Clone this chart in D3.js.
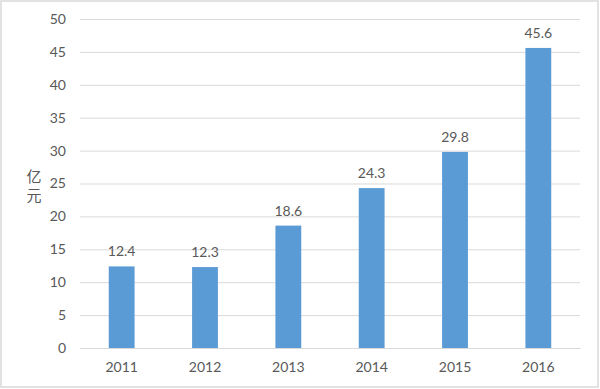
<!DOCTYPE html>
<html>
<head>
<meta charset="utf-8">
<script src="https://d3js.org/d3.v7.min.js"></script>
<style>
  body { margin: 0; background: #fff; }
  text { font-family: Lato, "Noto Sans CJK SC", sans-serif; fill: #595959; }
</style>
</head>
<body>
<div id="chart"></div>
<script>
// Chart data
const years = ["2011", "2012", "2013", "2014", "2015", "2016"];
const values = [12.4, 12.3, 18.6, 24.3, 29.8, 45.6];
const yTicks = [0, 5, 10, 15, 20, 25, 30, 35, 40, 45, 50];
const yLabel = ["亿", "元"];

const width = 600;
const height = 389;
const margin = { top: 19, right: 20, bottom: 41, left: 80 };

const svg = d3.select("#chart")
    .append("svg")
    .attr("width", width)
    .attr("height", height);

// outer border
svg.append("rect")
    .attr("x", 1).attr("y", 1)
    .attr("width", width - 3).attr("height", height - 3)
    .attr("fill", "#fff")
    .attr("stroke", "#d9d9d9")
    .attr("stroke-width", 1.5);

const x = d3.scaleBand()
    .domain(years)
    .range([margin.left, width - margin.right])
    .paddingInner(0.69)
    .paddingOuter(0.345);

const y = d3.scaleLinear()
    .domain([0, 50])
    .range([height - margin.bottom, margin.top]);

// gridlines + y labels
const yAxis = svg.append("g")
    .attr("transform", `translate(${margin.left},0)`)
    .call(d3.axisLeft(y)
        .tickValues(yTicks)
        .tickSize(-(width - margin.left - margin.right))
        .tickPadding(14));
yAxis.select(".domain").remove();
yAxis.selectAll(".tick line").attr("stroke", "#d9d9d9");
yAxis.selectAll(".tick text")
    .style("font-size", "14px")
    .attr("fill", "#595959");

// x axis
const xAxis = svg.append("g")
    .attr("transform", `translate(0,${height - margin.bottom})`)
    .call(d3.axisBottom(x).tickSize(0).tickPadding(14));
xAxis.select(".domain").attr("stroke", "#d9d9d9");
xAxis.selectAll(".tick text")
    .style("font-size", "14px")
    .attr("fill", "#595959");

// bars
svg.selectAll(".bar")
    .data(values)
    .enter()
    .append("rect")
    .attr("class", "bar")
    .attr("x", (d, i) => x(years[i]))
    .attr("y", d => y(d))
    .attr("width", x.bandwidth())
    .attr("height", d => y(0) - y(d))
    .attr("fill", "#5b9bd5");

// value labels
svg.selectAll(".val")
    .data(values)
    .enter()
    .append("text")
    .attr("class", "val")
    .attr("x", (d, i) => x(years[i]) + x.bandwidth() / 2)
    .attr("y", d => y(d) - 10)
    .attr("text-anchor", "middle")
    .style("font-size", "14px")
    .text(d => d.toFixed(1));

// y axis title, stacked vertically
svg.append("text")
    .attr("x", 34)
    .attr("text-anchor", "middle")
    .style("font-size", "15px")
    .selectAll("tspan")
    .data(yLabel)
    .enter()
    .append("tspan")
    .attr("x", 34)
    .attr("y", (d, i) => 182 + i * 19)
    .text(d => d);
</script>
</body>
</html>
